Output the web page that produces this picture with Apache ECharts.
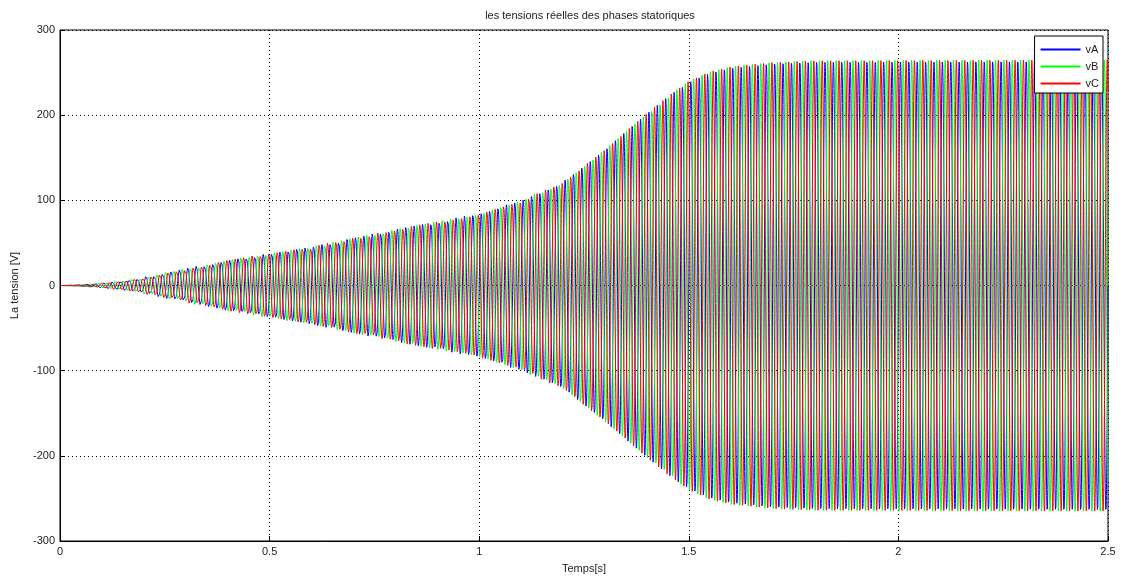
<!DOCTYPE html>
<html>
<head>
<meta charset="utf-8">
<script src="https://cdn.jsdelivr.net/npm/echarts@6/dist/echarts.min.js"></script>
<style>
  html, body { margin: 0; background: #fff; }
  #chart { width: 1124px; height: 581px; }
</style>
</head>
<body>
<div id="chart"></div>
<script>
const seriesNames = ['vA', 'vB', 'vC']
const seriesColors = ['#0000ff', '#00ff00', '#ff0000']
const phaseShifts = [0, -2 * Math.PI / 3, 2 * Math.PI / 3]
// peak amplitude envelope: time [s] -> volts
const envTime = [0, 0.05, 0.1, 0.15, 0.2, 0.3, 0.4, 0.5, 0.6, 0.7, 0.8, 0.9, 1.0, 1.1, 1.2, 1.3, 1.4, 1.45, 1.5, 1.55, 1.6, 1.7, 1.8, 2.5]
const envAmp = [0, 1, 3, 6, 10, 20, 30, 38, 46, 56, 66, 75, 85, 100, 122, 160, 202, 222, 240, 251, 257, 262, 264, 265]
const supplyFreq = 50
const tEnd = 2.5
const dt = 0.0002
const xTicks = ['0', '0.5', '1', '1.5', '2', '2.5']
const yTicks = [-300, -200, -100, 0, 100, 200, 300]

function envelopeAt(t) {
  let i = 1
  while (i < envTime.length - 1 && envTime[i] < t) i++
  let t0 = envTime[i - 1], t1 = envTime[i]
  let a0 = envAmp[i - 1], a1 = envAmp[i]
  return a0 + (a1 - a0) * (t - t0) / (t1 - t0)
}

function buildPhase(k) {
  let pts = []
  let n = Math.round(tEnd / dt)
  for (let j = 0; j <= n; j++) {
    let t = j * dt
    pts.push([t, envelopeAt(t) * Math.sin(2 * Math.PI * supplyFreq * t + phaseShifts[k])])
  }
  return pts
}

const chart = echarts.init(document.getElementById('chart'), null, { renderer: 'canvas' })
const labelFont = { color: '#222', fontSize: 11, fontFamily: 'Liberation Sans, Arial, sans-serif' }
const dotted = { color: '#000', type: [1, 3], width: 1 }

chart.setOption({
  animation: false,
  backgroundColor: '#fff',
  title: {
    text: 'les tensions réelles des phases statoriques',
    left: 585,
    top: 5,
    textAlign: 'center',
    textStyle: { ...labelFont, fontWeight: 'normal' }
  },
  legend: {
    data: seriesNames.map((name, k) => ({
      name: name,
      icon: 'rect',
      itemStyle: { color: seriesColors[k], borderWidth: 0 }
    })),
    orient: 'vertical',
    right: 21,
    top: 36,
    z: 20,
    itemWidth: 40,
    itemHeight: 2,
    itemGap: 6,
    padding: [8, 4, 4, 6],
    backgroundColor: '#fff',
    borderColor: '#000',
    borderWidth: 1,
    textStyle: labelFont
  },
  grid: {
    left: 60,
    right: 16,
    top: 30,
    bottom: 40,
    show: true,
    borderColor: '#000',
    borderWidth: 1,
    containLabel: false
  },
  xAxis: {
    type: 'value',
    min: 0,
    max: 2.5,
    interval: 0.5,
    name: 'Temps[s]',
    nameLocation: 'middle',
    nameGap: 22,
    nameTextStyle: labelFont,
    axisLine: { onZero: false, lineStyle: { color: '#000' } },
    axisTick: { inside: true, length: 5, lineStyle: { color: '#000' } },
    axisLabel: { ...labelFont, margin: 5, formatter: v => xTicks[Math.round(v / 0.5)] },
    splitLine: { show: true, lineStyle: dotted }
  },
  yAxis: {
    type: 'value',
    min: yTicks[0],
    max: yTicks[yTicks.length - 1],
    interval: 100,
    name: 'La tension [V]',
    nameLocation: 'middle',
    nameGap: 40,
    nameTextStyle: labelFont,
    axisLine: { show: true, onZero: false, lineStyle: { color: '#000' } },
    axisTick: { show: true, inside: true, length: 5, lineStyle: { color: '#000' } },
    axisLabel: { ...labelFont, margin: 5 },
    splitLine: { show: true, lineStyle: dotted }
  },
  series: seriesNames.map((name, k) => ({
    name: name,
    type: 'line',
    data: buildPhase(k),
    showSymbol: false,
    symbol: 'none',
    sampling: false,
    progressive: 0,
    z: 2,
    itemStyle: { color: seriesColors[k] },
    lineStyle: { color: seriesColors[k], width: 1 }
  }))
})
</script>
</body>
</html>
